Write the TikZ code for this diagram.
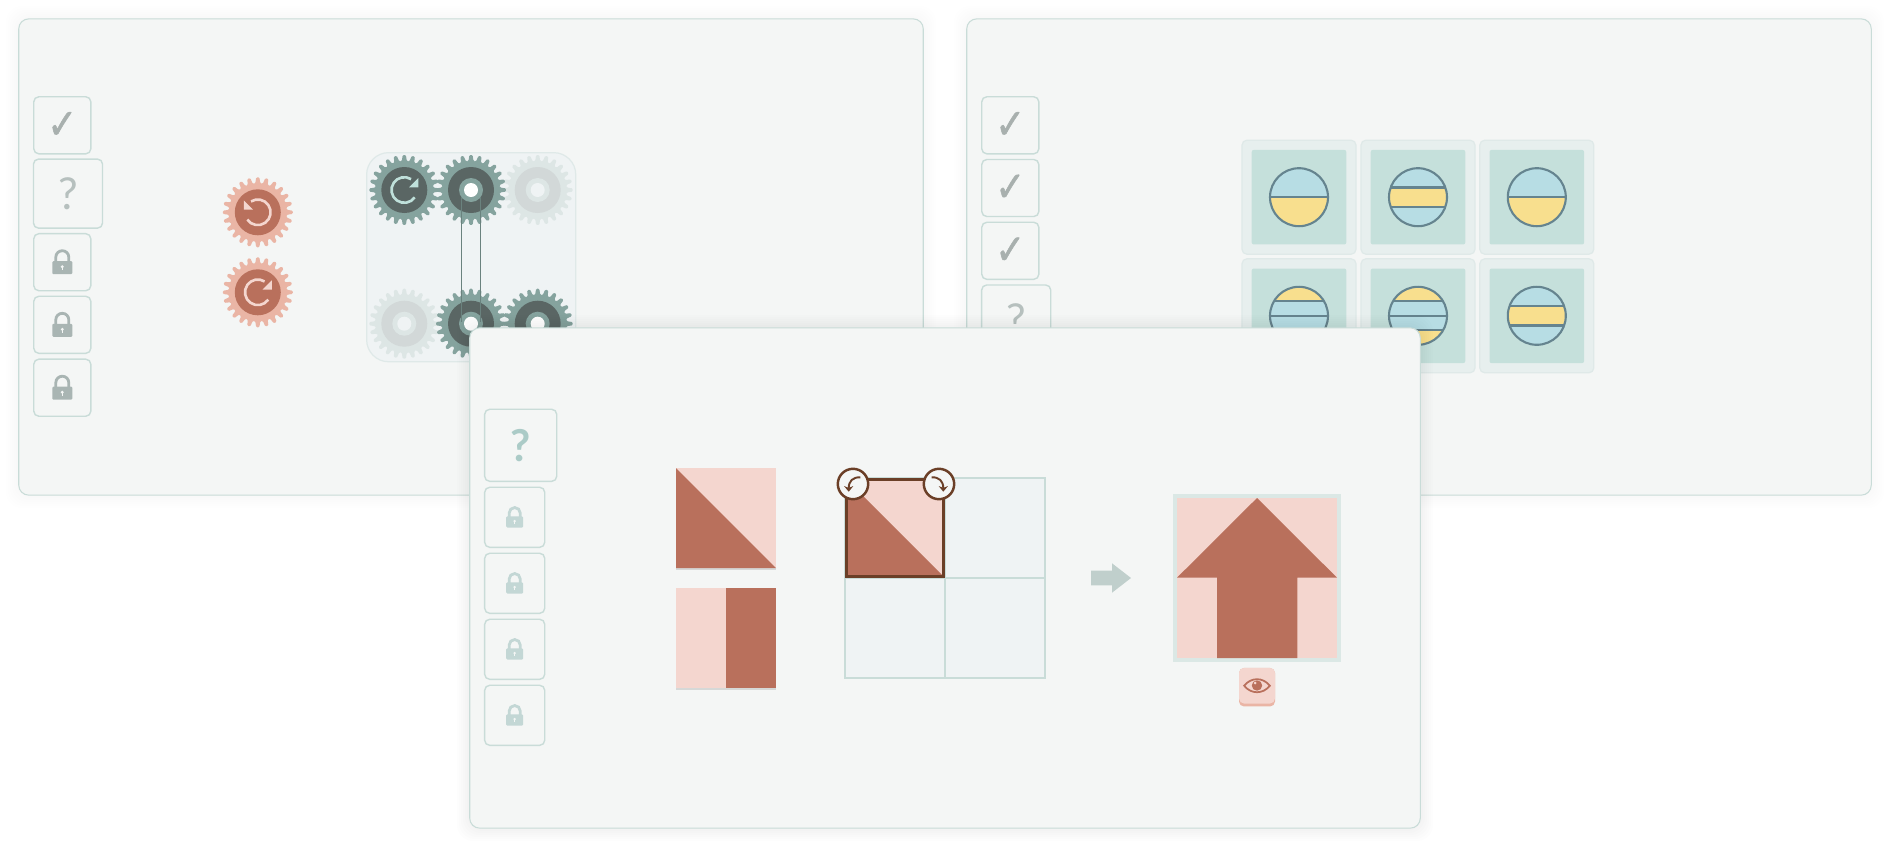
\documentclass[tikz,border=0pt]{standalone}
\usepackage{fontspec}
\usepackage{xcolor}
\usetikzlibrary{arrows.meta,positioning,calc}
\newfontfamily\markfont[FakeBold=1.2,FakeStretch=0.85]{DejaVu Sans}
\newfontfamily\askfont{Lato}
\definecolor{panelfill}{HTML}{F4F6F5}
\definecolor{panelline}{HTML}{C9DCD8}
\definecolor{softfill}{HTML}{EFF3F4}
\definecolor{softline}{HTML}{DFE9E8}
\definecolor{markgrey}{HTML}{A9B5B3}
\definecolor{tickgrey}{HTML}{A8B0AE}
\definecolor{markteal}{HTML}{C3D7D5}
\definecolor{askteal}{HTML}{ABCBC7}
\definecolor{brick}{HTML}{B9705C}
\definecolor{blush}{HTML}{F4D6CF}
\definecolor{salmon}{HTML}{EAB5A5}
\definecolor{toothgreen}{HTML}{85A39E}
\definecolor{discdark}{HTML}{5A6664}
\definecolor{mintmark}{HTML}{BFE0DA}
\definecolor{toothpale}{HTML}{DDE6E5}
\definecolor{discpale}{HTML}{D2D8D8}
\definecolor{tileouter}{HTML}{E7EFEE}
\definecolor{tileinner}{HTML}{C5E0DB}
\definecolor{coinblue}{HTML}{B7DDE4}
\definecolor{coinyellow}{HTML}{F8DF8E}
\definecolor{coinline}{HTML}{65848F}
\definecolor{walnut}{HTML}{6B3F27}
\definecolor{nextarrow}{HTML}{C0CFCC}
\definecolor{frameline}{HTML}{DBE8E5}
\tikzset{
  panelbox/.style={draw=panelline,fill=panelfill,line width=0.3pt,rounded corners=0.1cm,inner sep=0pt},
  slotbox/.style={draw=panelline,line width=0.4pt,rounded corners=0.05cm,inner sep=0pt,minimum size=#1},
  tickmark/.style={text=tickgrey,font=\markfont\fontsize{12}{12}\selectfont},
  askmark/.style={font=\askfont\fontsize{12.5}{12.5}\selectfont},
  gridcell/.style={draw=panelline,fill=softfill,line width=0.45pt,inner sep=0pt,minimum size=1cm},
  pics/lockicon/.style={code={
    \fill[#1,rounded corners=0.3pt] (-10,-1) rectangle (10,12);
    \draw[#1,line width=0.8pt] (-6.5,0) -- (-6.5,-5) arc (180:360:6.5) -- (6.5,0);
    \fill[panelfill] (0,4.5) circle (1.6);
    \draw[panelfill,line width=0.3pt] (0,4.5) -- (0,8);
  }},
  pics/gear/.style n args={4}{code={
    \fill[#1,rounded corners=0.3pt] (-5:29) \foreach \i in {0,...,23}{ -- (\i*15-5:29) -- (\i*15-2.6:35) -- (\i*15+2.6:35) -- (\i*15+5:29)} -- cycle;
    \fill[#2] (0,0) circle (23);
    \fill[#3] (0,0) circle (12);
    \fill[#4] (0,0) circle (7);
  }},
  pics/spinmark/.style={code={
    \draw[#1,line width=0.75pt] (35:12.8) arc (35:302:12.8);
    \fill[#1] (14,-12) -- (14,-2.7) -- (4.7,-2.7) -- cycle;
  }},
  pics/halfcoin/.style={code={
    \fill[coinblue] (0,0) circle (29);
    \begin{scope}
      \clip (0,0) circle (29);
      \fill[coinyellow] (-30,0) rectangle (30,30);
      \draw[coinline,line width=0.6pt] (-30,0) -- (30,0);
    \end{scope}
    \draw[coinline,line width=0.6pt] (0,0) circle (29);
  }},
  pics/bandcoin/.style={code={
    \fill[coinblue] (0,0) circle (29);
    \begin{scope}
      \clip (0,0) circle (29);
      \fill[coinyellow] (-30,-9.7) rectangle (30,9.7);
      \draw[coinline,line width=0.6pt] (-30,-9.7) -- (30,-9.7) (-30,9.7) -- (30,9.7);
    \end{scope}
    \draw[coinline,line width=0.6pt] (0,0) circle (29);
  }},
  pics/capcoin/.style={code={
    \fill[coinblue] (0,0) circle (29);
    \begin{scope}
      \clip (0,0) circle (29);
      \fill[coinyellow] (-30,-30) rectangle (30,-14.5) (-30,14.5) rectangle (30,30);
      \draw[coinline,line width=0.6pt] (-30,-14.5) -- (30,-14.5) (-30,0) -- (30,0) (-30,14.5) -- (30,14.5);
    \end{scope}
    \draw[coinline,line width=0.6pt] (0,0) circle (29);
  }},
  pics/turnknob/.style={code={
    \draw[walnut,fill=panelfill,line width=0.7pt] (0,0) circle (15.2);
    \draw[walnut,line width=0.55pt,-{Stealth[length=1.6pt,width=2.6pt]}] (7.3,-6.7) .. controls (0,-7) and (-4.3,-3) .. (-4.3,7.7);
  }}
}
\newcommand{\softshadow}[5]{
  \foreach \s in {1,3,...,13}
    \fill[black,opacity=#5,rounded corners=0.16cm] (#1-\s,#2-\s) rectangle (#3+\s,#4+\s);
}
\begin{document}
\begin{tikzpicture}[x=0.01cm,y=-0.01cm,>=Latex]
\useasboundingbox (0,0) rectangle (1890,848);
\fill[white] (0,0) rectangle (1890,848);

% gear puzzle, left card
\softshadow{19}{19}{923}{495}{0.004}
\node[panelbox,minimum width=9.04cm,minimum height=4.76cm] (gearcard) at (471,257) {};
\node[slotbox=0.57cm,tickmark] (gearslota) at (62.3,125.3) {✓};
\node[slotbox=0.69cm,askmark,text=markgrey!85] (gearslotb) at (68,193.6) {?};
\node[slotbox=0.57cm] (gearslotc) at (62.3,262.2) {};
\node[slotbox=0.57cm] (gearslotd) at (62.3,324.8) {};
\node[slotbox=0.57cm] (gearslote) at (62.3,387.7) {};
\foreach \n in {gearslotc,gearslotd,gearslote}
  \pic at (\n) {lockicon=markgrey};

\coordinate (redgeara) at (257.8,212.3);
\coordinate (redgearb) at (257.8,292.3);
\pic at (redgeara) {gear={salmon}{brick}{brick}{brick}};
\pic[xscale=-1] at (redgeara) {spinmark=blush};
\pic at (redgearb) {gear={salmon}{brick}{brick}{brick}};
\pic at (redgearb) {spinmark=blush};

\node[draw=softline,fill=softfill,line width=0.35pt,rounded corners=0.22cm,inner sep=0pt,minimum size=2.09cm] (geartray) at (471.2,257.2) {};
\coordinate (trayup) at (471,190);
\coordinate (traydown) at (471,323.7);
\pic at (404.3,190) {gear={toothgreen}{discdark}{discdark}{discdark}};
\pic at (404.3,190) {spinmark=mintmark};
\pic at (537.7,190) {gear={toothpale}{discpale}{toothpale}{softfill}};
\pic at (404.3,323.7) {gear={toothpale}{discpale}{toothpale}{softfill}};
\pic at (trayup) {gear={toothgreen}{discdark}{toothgreen}{white}};
\pic at (traydown) {gear={toothgreen}{discdark}{toothgreen}{white}};
\pic at (537.7,323.7) {gear={toothgreen}{discdark}{toothgreen}{white}};
\draw[toothgreen!80!black,line width=0.5pt] ($(trayup)+(-9.5,7)$) -- ($(traydown)+(-9.5,-2)$);
\draw[toothgreen!80!black,line width=0.5pt] ($(trayup)+(9.5,7)$) -- ($(traydown)+(9.5,-2)$);

% coin puzzle, right card
\softshadow{967}{19}{1871}{495}{0.004}
\node[panelbox,minimum width=9.04cm,minimum height=4.76cm] (coincard) at (1419,257) {};
\node[slotbox=0.57cm,tickmark] (coinslota) at (1010.3,125.3) {✓};
\node[slotbox=0.57cm,tickmark] (coinslotb) at (1010.3,188) {✓};
\node[slotbox=0.57cm,tickmark] (coinslotc) at (1010.3,250.8) {✓};
\node[slotbox=0.69cm,askmark,text=markgrey!85] (coinslotd) at (1016.2,319.5) {?};
\foreach \c/\x in {a/1299,b/1418,c/1536.8}
  \foreach \r/\y in {a/197.2,b/315.8}{
    \node[draw=softline,fill=tileouter,line width=0.35pt,rounded corners=0.05cm,inner sep=0pt,minimum size=1.14cm] (tile\r\c) at (\x,\y) {};
    \node[fill=tileinner,rounded corners=0.02cm,inner sep=0pt,minimum size=0.945cm] at (tile\r\c) {};
  }
\pic at (tileaa) {halfcoin};
\pic at (tileab) {bandcoin};
\pic at (tileac) {halfcoin};
\pic at (tileba) {capcoin};
\pic at (tilebb) {capcoin};
\pic at (tilebc) {bandcoin};

% tile puzzle, front card
\softshadow{470}{328}{1420}{828}{0.008}
\node[panelbox,minimum width=9.5cm,minimum height=5cm] (tilecard) at (945,578) {};
\node[slotbox=0.72cm,askmark,text=askteal,font=\askfont\bfseries\fontsize{12.5}{12.5}\selectfont] (tileslota) at (520.7,445.3) {?};
\node[slotbox=0.6cm] (tileslotb) at (514.7,517.3) {};
\node[slotbox=0.6cm] (tileslotc) at (514.7,583.3) {};
\node[slotbox=0.6cm] (tileslotd) at (514.7,649.3) {};
\node[slotbox=0.6cm] (tileslote) at (514.7,715.3) {};
\foreach \n in {tileslotb,tileslotc,tileslotd,tileslote}
  \pic[scale=0.85] at (\n) {lockicon=markteal};

% loose pieces
\fill[black,opacity=0.12] (676,470) rectangle (776,569.5);
\fill[blush] (676,468) rectangle (776,568);
\fill[brick] (676,468) -- (776,568) -- (676,568) -- cycle;
\fill[black,opacity=0.12] (676,590) rectangle (776,689.5);
\fill[blush] (676,588) rectangle (726,688);
\fill[brick] (726,588) rectangle (776,688);

% board
\foreach \c/\x in {a/895,b/995.2}
  \foreach \r/\y in {a/527.8,b/628}
    \node[gridcell] (cell\r\c) at (\x,\y) {};
\fill[blush] (846,478.8) rectangle (944,576.8);
\fill[brick] (846,478.8) -- (944,576.8) -- (846,576.8) -- cycle;
\draw[walnut,line width=0.85pt] (846.5,479.2) rectangle (943.5,576.3);
\pic at (853,484) {turnknob};
\pic[xscale=-1] at (939,484) {turnknob};

% result
\fill[nextarrow] (1091,570.7) -- (1112,570.7) -- (1112,563.3) -- (1131,578) -- (1112,592.7) -- (1112,585.3) -- (1091,585.3) -- cycle;
\node[draw=frameline,fill=blush,line width=1.14pt,inner sep=0pt,minimum size=1.64cm] (goal) at (1257,578) {};
\fill[brick] (1257,498) -- (1337,577.7) -- (1297.3,577.7) -- (1297.3,658) -- (1217,658) -- (1217,577.7) -- (1177,577.7) -- cycle;
\node[fill=salmon,rounded corners=0.05cm,inner sep=0pt,minimum width=0.36cm,minimum height=0.385cm] (eyekey) at (1257,687.2) {};
\fill[blush,rounded corners=0.05cm] (1239,668) rectangle (1275,703.5);
\draw[brick,line width=0.5pt] (1244.2,685.7) .. controls (1251,677) and (1263,677) .. (1269.8,685.7) .. controls (1263,694.4) and (1251,694.4) .. (1244.2,685.7) -- cycle;
\fill[brick] (1257,685.5) circle (5.2);
\fill[blush] (1255,683) circle (1.5);
\end{tikzpicture}
\end{document}
